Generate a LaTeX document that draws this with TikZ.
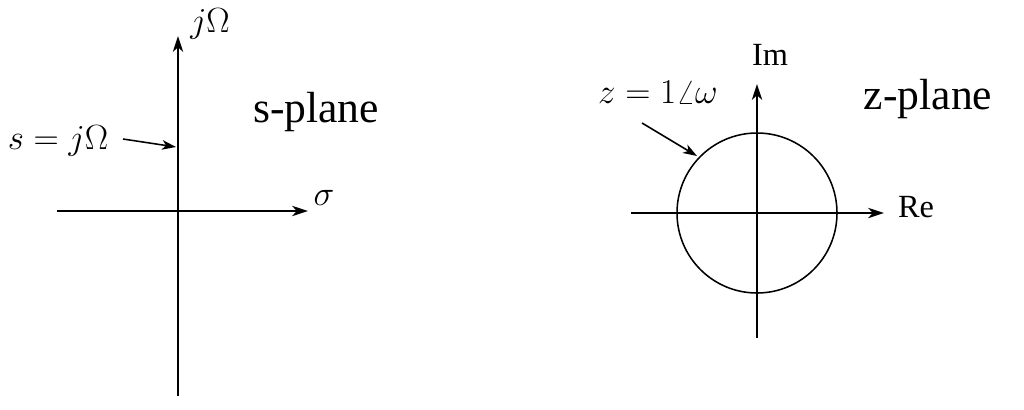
\documentclass[tikz,border=0pt]{standalone}
\usepackage{fontspec}
\setmainfont{Liberation Serif}
\usetikzlibrary{arrows.meta,positioning}
\tikzset{
  axis/.style={-{Stealth[length=4mm,width=2.6mm,inset=1.2mm]},line width=1.1pt},
  pointer/.style={-{Stealth[length=3.5mm,width=2.4mm,inset=1mm]},line width=1.1pt},
  unitcircle/.style={line width=1.1pt},
  axislabel/.style={font=\fontsize{23}{26}\selectfont,inner sep=0pt},
  mathlabel/.style={font=\fontsize{25}{28}\selectfont,inner sep=0pt},
  planelabel/.style={font=\fontsize{31}{36}\selectfont,inner sep=0pt}
}

\begin{document}
\begin{tikzpicture}[x=0.025cm,y=-0.025cm]
  \useasboundingbox (0,0) rectangle (1024,409);

  % s-plane
  \coordinate (sO) at (178,211);
  \coordinate (sLeft) at (57,211);
  \coordinate (sRight) at (308,211);
  \coordinate (sDown) at (178,396);
  \coordinate (sUp) at (178,36);
  \coordinate (sFrom) at (123,139);
  \coordinate (sHit) at (176,147);
  \draw[axis] (sLeft) -- (sRight);
  \draw[axis] (sDown) -- (sUp);
  \node[mathlabel] (sigma) at (324,198) {$\sigma$};
  \node[mathlabel] (jomega) at (210,24) {$j\Omega$};
  \node[mathlabel] (sline) at (58,141) {$s = j\Omega$};
  \draw[pointer] (sFrom) -- (sHit);
  \node[planelabel] (splane) at (316,112) {s-plane};

  % z-plane
  \coordinate (zO) at (757,213);
  \coordinate (zLeft) at (631,213);
  \coordinate (zRight) at (884,213);
  \coordinate (zDown) at (757,338);
  \coordinate (zUp) at (757,84);
  \coordinate (zFrom) at (642,123);
  \coordinate (zHit) at (697,156);
  \draw[unitcircle] (zO) circle[radius=80];
  \draw[axis] (zLeft) -- (zRight);
  \draw[axis] (zDown) -- (zUp);
  \node[axislabel] (re) at (916,207) {Re};
  \node[axislabel] (im) at (770,55) {Im};
  \node[mathlabel] (zline) at (658,92) {$z = 1\angle\omega$};
  \draw[pointer] (zFrom) -- (zHit);
  \node[planelabel] (zplane) at (928,99) {z-plane};
\end{tikzpicture}
\end{document}
